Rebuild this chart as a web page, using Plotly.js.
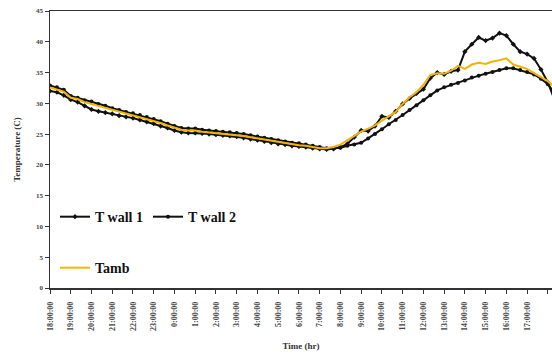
<!DOCTYPE html>
<html>
<head>
<meta charset="utf-8">
<script src="https://cdn.plot.ly/plotly-3.0.1.min.js"></script>
<style>html,body{margin:0;padding:0;background:#fff;}#chart{width:552px;height:356px;}</style>
</head>
<body>
<div id="chart"></div>
<script>
// minutes elapsed since 18:00:00
const minutes = [0,20,40,60,80,100,120,140,160,180,200,220,240,260,280,300,320,340,360,380,400,420,440,460,480,500,520,540,560,580,600,620,640,660,680,700,720,740,760,780,800,820,840,860,880,900,920,940,960,980,1000,1020,1040,1060,1080,1100,1120,1140,1160,1180,1200,1220,1240,1260,1280,1300,1320,1340,1360,1380,1400,1420,1440,1460];

const tickLabels = ["18:00:00","19:00:00","20:00:00","21:00:00","22:00:00","23:00:00","0:00:00","1:00:00","2:00:00","3:00:00","4:00:00","5:00:00","6:00:00","7:00:00","8:00:00","9:00:00","10:00:00","11:00:00","12:00:00","13:00:00","14:00:00","15:00:00","16:00:00","17:00:00","18:00:00"];
const tickMinutes = [0,60,120,180,240,300,360,420,480,540,600,660,720,780,840,900,960,1020,1080,1140,1200,1260,1320,1380,1440];

const tWall1 = [32.0,31.8,31.3,30.6,30.2,29.6,29.0,28.7,28.5,28.3,28.0,27.8,27.6,27.3,27.0,26.7,26.3,26.0,25.6,25.3,25.2,25.2,25.1,25.0,24.9,24.8,24.7,24.6,24.4,24.2,24.0,23.8,23.6,23.4,23.3,23.1,23.0,22.9,22.7,22.6,22.5,22.6,22.9,
  23.4,24.5,25.6,25.5,26.3,27.9,27.7,28.7,29.9,30.8,31.6,32.3,34.1,35.0,34.7,35.2,35.4,38.4,39.6,40.7,40.2,40.6,41.4,41.0,39.6,38.4,38.0,37.3,35.5,33.4,30.5];

const tWall2 = [32.9,32.6,32.2,31.2,30.9,30.5,30.3,29.9,29.6,29.2,28.9,28.6,28.4,28.1,27.8,27.45,27.1,26.7,26.3,26.0,25.9,25.9,25.7,25.6,25.5,25.4,25.3,25.2,25.0,24.8,24.6,24.4,24.2,24.0,23.8,23.6,23.5,23.3,23.1,22.9,22.7,22.7,22.8,
  23.1,23.3,23.6,24.3,25.0,25.8,26.6,27.3,28.1,28.9,29.7,30.5,31.3,32.1,32.6,33.0,33.3,33.7,34.2,34.5,34.8,35.1,35.4,35.7,35.7,35.4,35.1,34.7,34.0,33.1,31.6];

const tAmb = [32.6,32.3,31.9,30.9,30.7,30.2,29.9,29.5,29.3,28.9,28.6,28.3,28.1,27.8,27.5,27.2,26.8,26.4,26.0,25.7,25.6,25.6,25.4,25.3,25.2,25.1,25.0,24.9,24.7,24.5,24.3,24.1,23.9,23.7,23.5,23.4,23.2,23.1,22.9,22.7,22.7,22.9,23.3,
  24.0,24.8,25.4,25.9,26.4,27.2,27.9,28.6,29.9,31.0,31.8,33.0,34.6,34.9,34.8,35.3,36.1,35.6,36.3,36.6,36.4,36.8,37.0,37.3,36.3,35.9,35.6,34.9,34.2,33.6,32.6];

const serif = "Liberation Serif, Times New Roman, serif";

const traces = [
  {x: minutes, y: tWall1, name: "T wall 1", type: "scatter", mode: "lines+markers",
   line: {color: "#111111", width: 2}, marker: {symbol: "diamond", size: 4, color: "#111111"}, legend: "legend"},
  {x: minutes, y: tWall2, name: "T wall 2", type: "scatter", mode: "lines+markers",
   line: {color: "#111111", width: 2}, marker: {symbol: "circle", size: 4, color: "#111111"}, legend: "legend"},
  {x: minutes, y: tAmb, name: "Tamb", type: "scatter", mode: "lines",
   line: {color: "#F2B400", width: 2}, legend: "legend2"}
];

const layout = {
  width: 552, height: 356,
  margin: {l: 50, r: 0, t: 11, b: 68},
  paper_bgcolor: "#ffffff", plot_bgcolor: "#ffffff",
  showlegend: true,
  xaxis: {
    range: [0, 1452], tickmode: "array", tickvals: tickMinutes, ticktext: tickLabels,
    tickangle: -90, ticks: "outside", ticklen: 4, tickwidth: 1, tickcolor: "#333",
    ticklabelstandoff: 5,
    showline: true, linecolor: "#333", linewidth: 1.5, mirror: true,
    showgrid: false, zeroline: false,
    tickfont: {family: serif, size: 8, color: "#444", weight: "bold"},
    title: {text: "<b>Time (hr)</b>", font: {family: serif, size: 9, color: "#333"}, standoff: 12}
  },
  yaxis: {
    range: [0, 45], tickmode: "array", tickvals: [0,5,10,15,20,25,30,35,40,45],
    ticks: "outside", ticklen: 4, tickwidth: 1, tickcolor: "#333",
    showline: true, linecolor: "#333", linewidth: 1.5,
    showgrid: false, zeroline: false,
    tickfont: {family: serif, size: 7, color: "#444", weight: "bold"},
    title: {text: "<b>Temperature (C)</b>", font: {family: serif, size: 9, color: "#333"}, standoff: 14}
  },
  legend: {
    orientation: "h", x: 0.01, y: 0.256, xanchor: "left", yanchor: "middle",
    bgcolor: "rgba(0,0,0,0)", font: {family: serif, size: 14, color: "#111", weight: "bold"},
    itemwidth: 30, tracegroupgap: 0
  },
  legend2: {
    orientation: "h", x: 0.01, y: 0.072, xanchor: "left", yanchor: "middle",
    bgcolor: "rgba(0,0,0,0)", font: {family: serif, size: 14, color: "#111", weight: "bold"},
    itemwidth: 30
  }
};

Plotly.newPlot("chart", traces, layout, {displayModeBar: false, staticPlot: true});
</script>
</body>
</html>
